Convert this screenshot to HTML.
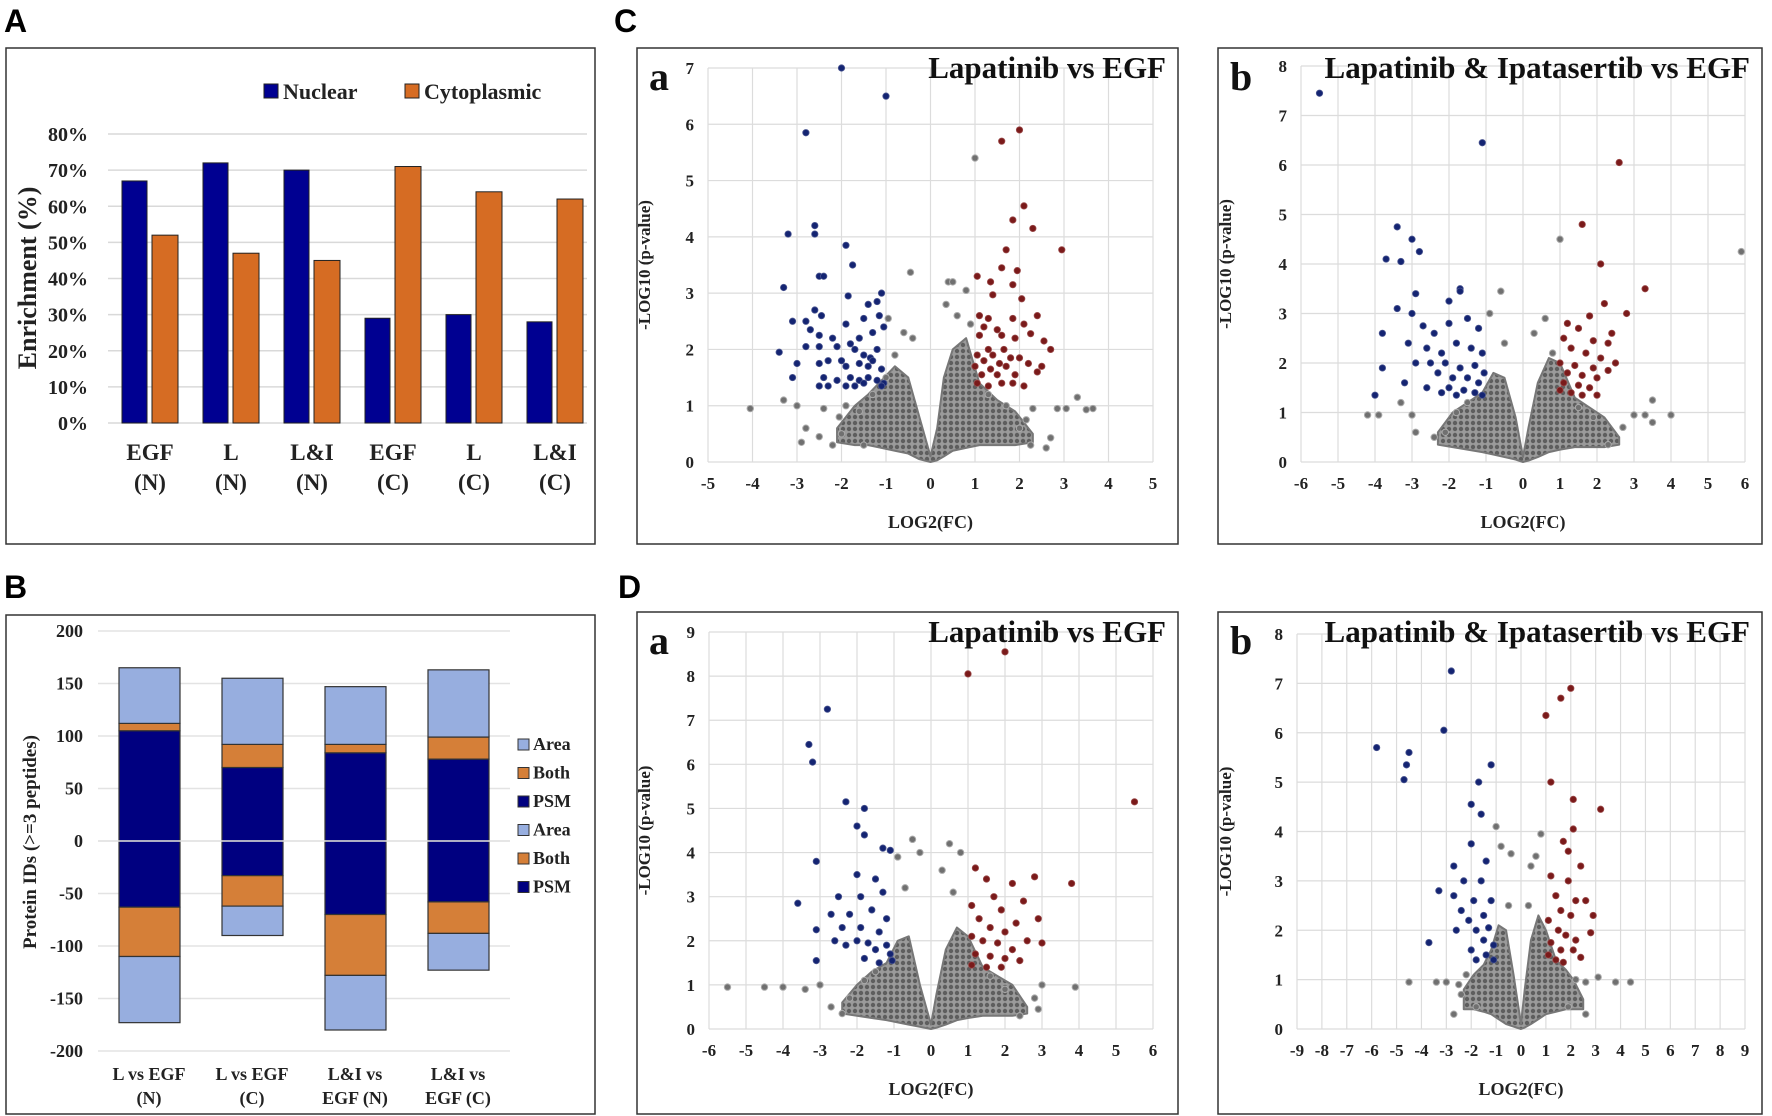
<!DOCTYPE html>
<html><head><meta charset="utf-8">
<style>
html,body{margin:0;padding:0;background:#fff;}
svg{display:block;font-family:"Liberation Serif",serif;}
.pl{font-family:"Liberation Sans",sans-serif;font-weight:bold;font-size:32px;}
</style></head>
<body>
<svg id="fig" width="1772" height="1116" viewBox="0 0 1772 1116" xmlns="http://www.w3.org/2000/svg">
<defs>
<pattern id="dots" width="6" height="6" patternUnits="userSpaceOnUse">
<rect width="6" height="6" fill="#9a9a9a"/>
<circle cx="3" cy="3" r="2.2" fill="#5e5e5e"/>
</pattern>
</defs>
<text class="pl" x="4" y="32">A</text>
<text class="pl" x="4" y="598">B</text>
<text class="pl" x="614" y="32">C</text>
<text class="pl" x="618" y="598">D</text>
<rect x="6" y="48" width="589" height="496" fill="none" stroke="#333" stroke-width="1.5"/>
<rect x="6" y="615" width="589" height="499" fill="none" stroke="#333" stroke-width="1.5"/>
<g id="gA"></g>
<g id="gB"></g>
<g id="gCa"></g>
<g id="gCb"></g>
<g id="gDa"></g>
<g id="gDb"></g>
</svg>
<script>
// ---------- Panel A data ----------
const aCategories = [["EGF","(N)"],["L","(N)"],["L&I","(N)"],["EGF","(C)"],["L","(C)"],["L&I","(C)"]];
const aNuclear = [67,72,70,29,30,28];
const aCytoplasmic = [52,47,45,71,64,62];
const aTicks = [0,10,20,30,40,50,60,70,80];

// ---------- Panel B data ----------
const bCategories = [["L vs EGF","(N)"],["L vs EGF","(C)"],["L&I vs","EGF (N)"],["L&I vs","EGF (C)"]];
const bPosPSM = [105,70,84,78];
const bPosBoth = [7,22,8,21];
const bPosArea = [53,63,55,64];
const bNegPSM = [-63,-33,-70,-58];
const bNegBoth = [-47,-29,-58,-30];
const bNegArea = [-63,-28,-52,-35];
const bTicks = [200,150,100,50,0,-50,-100,-150,-200];
const bLegend = ["Area","Both","PSM","Area","Both","PSM"];

// ---------- Volcano data: C-a ----------
const caBlue = [[-2,7],[-1,6.5],[-2.8,5.85],[-2.6,4.2],[-2.6,4.05],[-3.2,4.05],[-1.9,3.85],[-1.75,3.5],[-2.5,3.3],[-2.4,3.3],[-3.3,3.1],[-1.1,3.0],[-1.85,2.95],[-1.4,2.8],[-1.2,2.85],[-2.6,2.7],[-3.1,2.5],[-2.8,2.5],[-2.45,2.6],[-1.9,2.45],[-1.5,2.55],[-1.15,2.6],[-2.7,2.35],[-2.5,2.25],[-2.2,2.2],[-1.8,2.1],[-1.6,2.2],[-1.3,2.3],[-1.05,2.4],[-3.4,1.95],[-2.8,2.05],[-2.5,2.05],[-2.1,2.05],[-1.7,2.0],[-1.5,1.9],[-1.35,1.85],[-1.2,2.0],[-3.0,1.75],[-2.5,1.75],[-2.3,1.8],[-2.0,1.8],[-1.9,1.7],[-1.6,1.75],[-1.4,1.7],[-1.3,1.8],[-1.1,1.65],[-3.1,1.5],[-2.4,1.5],[-2.1,1.45],[-1.8,1.5],[-1.6,1.45],[-1.4,1.5],[-1.2,1.45],[-1.05,1.4],[-2.5,1.35],[-2.3,1.35],[-1.9,1.35],[-1.7,1.35],[-1.5,1.4],[-1.1,1.35]];
const caRed = [[2,5.9],[1.6,5.7],[2.1,4.55],[1.85,4.3],[2.3,4.15],[2.95,3.77],[1.7,3.77],[1.6,3.45],[1.95,3.4],[1.05,3.3],[1.35,3.2],[1.85,3.15],[1.4,2.97],[2.05,2.9],[2.4,2.6],[1.1,2.6],[1.3,2.55],[1.85,2.55],[2.1,2.45],[1.2,2.4],[1.5,2.35],[2.25,2.28],[1.1,2.25],[1.6,2.25],[1.9,2.2],[2.55,2.15],[2.7,2.0],[1.3,2.0],[1.65,2.0],[1.05,1.9],[1.4,1.9],[1.8,1.85],[2.0,1.85],[1.2,1.8],[1.55,1.75],[2.2,1.75],[1.0,1.7],[1.35,1.65],[1.7,1.7],[2.5,1.7],[1.15,1.55],[1.5,1.55],[1.9,1.55],[2.4,1.6],[1.05,1.4],[1.3,1.35],[1.6,1.4],[1.85,1.4],[2.1,1.35]];
const caGrey = [[1,5.4],[-0.45,3.37],[0.4,3.2],[0.5,3.2],[0.8,3.05],[0.35,2.8],[-0.95,2.55],[-4.05,0.95],[-3.3,1.1],[-3,1.0],[3.3,1.15],[3.05,0.95],[3.5,0.93],[3.65,0.95],[2.85,0.95],[2.6,0.25],[2.7,0.43],[2.25,0.3],[-2.9,0.35],[-2.8,0.6],[-2.5,0.45],[-2.2,0.3],[-2.4,0.95],[-1.9,1.0],[-2.05,0.8],[2.3,0.95],[2.15,0.75],[-1.5,0.3],[-0.6,2.3],[-0.4,2.2],[0.6,2.6],[0.9,2.45],[-0.8,1.9],[-1.0,1.5],[-1.6,0.9],[-1.3,1.2],[1.3,1.2],[1.7,1.0],[2.0,0.6],[-2.0,0.5]];
const caCloudX = [-2.1,-1.7,-1.4,-1.1,-0.8,-0.5,-0.25,0,0.15,0.3,0.5,0.8,1.1,1.5,1.9,2.3];
const caCloudTop = [0.6,1.0,1.2,1.45,1.7,1.5,0.8,0.1,0.6,1.5,2.0,2.2,1.4,1.1,0.9,0.5];
const caCloudBottom = [0.35,0.3,0.3,0.25,0.2,0.15,0.05,0,0.03,0.1,0.2,0.25,0.3,0.3,0.3,0.35];

// ---------- C-b ----------
const cbBlue = [[-5.5,7.45],[-1.1,6.45],[-3.4,4.75],[-3.0,4.5],[-2.8,4.25],[-3.7,4.1],[-3.3,4.05],[-1.7,3.5],[-1.7,3.45],[-3.4,3.1],[-2.9,3.4],[-2.0,3.25],[-3.0,3.0],[-1.5,2.9],[-3.8,2.6],[-2.7,2.75],[-2.4,2.6],[-2.0,2.8],[-1.2,2.7],[-3.1,2.4],[-2.6,2.3],[-2.2,2.2],[-1.8,2.4],[-1.4,2.3],[-1.1,2.2],[-2.9,2.0],[-2.5,2.0],[-2.1,2.0],[-1.7,1.9],[-1.3,1.95],[-1.05,1.8],[-3.8,1.9],[-2.3,1.8],[-1.9,1.7],[-1.5,1.7],[-1.2,1.6],[-4,1.35],[-3.2,1.6],[-2.6,1.5],[-2.0,1.5],[-1.6,1.45],[-1.3,1.4],[-1.1,1.35],[-1.8,1.35],[-2.2,1.4]];
const cbRed = [[2.6,6.05],[1.6,4.8],[2.1,4.0],[3.3,3.5],[2.2,3.2],[2.8,3.0],[1.8,2.95],[1.2,2.8],[1.5,2.7],[2.4,2.6],[1.1,2.5],[1.9,2.45],[2.3,2.4],[1.3,2.3],[1.7,2.2],[2.1,2.1],[2.5,2.0],[1.0,2.0],[1.4,1.95],[1.9,1.9],[2.3,1.85],[1.2,1.8],[1.6,1.75],[2.0,1.7],[1.1,1.6],[1.5,1.55],[1.8,1.5],[1.0,1.45],[1.3,1.4],[1.6,1.35],[2.0,1.35]];
const cbGrey = [[5.9,4.25],[1.0,4.5],[-0.6,3.45],[-4.2,0.95],[-3.9,0.95],[-3.0,0.95],[-2.9,0.6],[-3.3,1.2],[3.5,1.25],[3.0,0.95],[3.3,0.95],[3.5,0.8],[4.0,0.95],[2.7,0.7],[-2.4,0.5],[2.3,0.35],[-0.9,3.0],[0.6,2.9],[0.3,2.6],[-0.5,2.4],[0.8,2.2],[-1.8,1.0],[-1.5,1.2],[1.5,1.1],[1.9,0.9],[-2.1,0.6]];
const cbCloudX = [-2.3,-1.9,-1.5,-1.1,-0.8,-0.5,-0.2,0,0.15,0.4,0.7,1.0,1.4,1.8,2.2,2.6];
const cbCloudTop = [0.6,1.0,1.2,1.4,1.8,1.7,0.9,0.1,0.7,1.6,2.1,2.0,1.3,1.1,0.9,0.5];
const cbCloudBottom = [0.35,0.3,0.25,0.2,0.15,0.1,0.05,0,0.03,0.1,0.2,0.25,0.3,0.3,0.3,0.35];

// ---------- D-a ----------
const daBlue = [[-2.8,7.25],[-3.3,6.45],[-3.2,6.05],[-2.3,5.15],[-1.8,5.0],[-2.0,4.6],[-1.8,4.4],[-1.3,4.1],[-1.1,4.05],[-3.1,3.8],[-2.0,3.5],[-1.5,3.4],[-2.5,3.0],[-3.6,2.85],[-1.9,3.0],[-1.3,3.1],[-2.7,2.6],[-2.2,2.6],[-1.6,2.7],[-1.2,2.5],[-3.1,2.25],[-2.4,2.3],[-1.9,2.3],[-1.4,2.2],[-2.0,2.0],[-1.7,1.95],[-1.2,1.9],[-3.1,1.55],[-2.3,1.9],[-1.5,1.8],[-1.1,1.7],[-2.6,2.0],[-1.8,1.6],[-1.4,1.5],[-1.05,1.55]];
const daRed = [[1.0,8.05],[2.0,8.55],[5.5,5.15],[3.8,3.3],[1.2,3.65],[1.5,3.4],[2.8,3.45],[2.2,3.3],[1.7,3.0],[2.5,2.9],[1.1,2.8],[1.9,2.7],[2.9,2.5],[1.3,2.5],[2.3,2.4],[1.6,2.3],[2.0,2.2],[2.6,2.0],[1.1,2.1],[1.4,2.0],[1.8,1.95],[3.0,1.95],[2.2,1.8],[1.2,1.7],[1.6,1.65],[2.0,1.6],[2.4,1.55],[1.1,1.45],[1.5,1.4],[1.9,1.4]];
const daGrey = [[-5.5,0.95],[-4.5,0.95],[-4,0.95],[-3.4,0.9],[3.9,0.95],[2.8,0.7],[2.9,0.45],[-0.5,4.3],[-0.3,4.0],[0.5,4.2],[0.8,4.0],[-0.9,3.9],[0.3,3.6],[-2.7,0.5],[-2.4,0.35],[2.4,0.3],[3.0,1.0],[-3.0,1.0],[-0.7,3.2],[0.6,3.1],[-1.8,1.1],[-1.5,1.3],[1.6,1.2],[2.0,0.9],[-2.2,0.7]];
const daCloudX = [-2.4,-2.0,-1.6,-1.2,-0.9,-0.6,-0.3,0,0.15,0.4,0.7,1.0,1.4,1.8,2.2,2.6];
const daCloudTop = [0.6,1.0,1.3,1.5,2.0,2.1,1.0,0.1,0.8,1.8,2.3,2.1,1.4,1.2,1.0,0.5];
const daCloudBottom = [0.35,0.3,0.25,0.2,0.15,0.1,0.05,0,0.03,0.1,0.2,0.25,0.3,0.3,0.3,0.35];

// ---------- D-b ----------
const dbBlue = [[-2.8,7.25],[-5.8,5.7],[-4.5,5.6],[-4.6,5.35],[-1.2,5.35],[-4.7,5.05],[-1.7,5.0],[-3.1,6.05],[-2.0,4.55],[-1.6,4.35],[-2.0,3.75],[-2.7,3.3],[-1.4,3.4],[-3.3,2.8],[-2.3,3.0],[-1.6,3.0],[-2.7,2.7],[-1.9,2.6],[-1.2,2.6],[-2.4,2.4],[-1.5,2.3],[-3.7,1.75],[-2.1,2.2],[-1.8,2.0],[-1.3,2.05],[-2.6,2.0],[-1.5,1.8],[-1.1,1.7],[-2.0,1.6],[-1.4,1.5],[-1.8,1.4],[-1.1,1.4]];
const dbRed = [[2.0,6.9],[1.6,6.7],[1.0,6.35],[1.2,5.0],[2.1,4.65],[3.2,4.45],[2.1,4.05],[1.7,3.8],[1.9,3.6],[2.4,3.3],[1.2,3.1],[1.9,3.0],[2.6,2.6],[1.4,2.7],[2.2,2.6],[2.9,2.3],[1.6,2.4],[2.0,2.3],[2.8,1.95],[1.1,2.2],[1.5,2.0],[1.8,1.9],[2.4,1.45],[1.2,1.75],[1.6,1.6],[2.2,1.8],[1.1,1.5],[1.4,1.4],[1.7,1.35],[2.1,1.6]];
const dbGrey = [[-1.0,4.1],[0.8,3.95],[-0.8,3.7],[-0.4,3.55],[0.6,3.5],[0.4,3.3],[-4.5,0.95],[-3.0,0.95],[-3.4,0.95],[3.1,1.05],[3.8,0.95],[4.4,0.95],[-2.5,0.9],[2.6,0.95],[-2.7,0.3],[2.6,0.3],[-1.8,0.45],[1.9,0.45],[-0.5,2.5],[0.3,2.5],[-2.2,1.1],[2.2,1.0],[-2.4,0.7]];
const dbCloudX = [-2.3,-1.9,-1.5,-1.2,-0.9,-0.6,-0.3,0,0.15,0.4,0.7,1.0,1.4,1.8,2.1,2.5];
const dbCloudTop = [0.8,1.1,1.3,1.6,2.1,2.0,1.1,0.1,0.8,1.8,2.3,2.0,1.4,1.2,1.0,0.6];
const dbCloudBottom = [0.4,0.4,0.35,0.3,0.2,0.1,0.05,0,0.03,0.1,0.2,0.3,0.35,0.4,0.4,0.4];

const NS = "http://www.w3.org/2000/svg";
function mk(parent, tag, attrs, text){
  const e = document.createElementNS(NS, tag);
  for (const k in attrs) e.setAttribute(k, attrs[k]);
  if (text !== undefined) e.textContent = text;
  parent.appendChild(e);
  return e;
}

// ---------- Draw Panel A ----------
(function(){
  const g = document.getElementById('gA');
  const y = v => 423 - v/80*289;
  const cx = i => 150 + i*81;
  aTicks.forEach(t=>{
    const l = mk(g,'line',{x1:108,x2:587,y1:y(t),y2:y(t),stroke:'#d9d9d9','stroke-width':1.5});
    
    
    const tx = mk(g,'text',{x:88,y:y(t)+7,'text-anchor':'end','font-size':20,'font-weight':'bold',fill:'#222'},t+'%');
    
    
  });
  aCategories.forEach((c,i)=>{
    const b1 = mk(g,'rect',{x:cx(i)-28,y:y(aNuclear[i]),width:25,height:y(0)-y(aNuclear[i]),fill:'#000091',stroke:'#222','stroke-width':1});
    
    
    const b2 = mk(g,'rect',{x:cx(i)+2,y:y(aCytoplasmic[i]),width:26,height:y(0)-y(aCytoplasmic[i]),fill:'#d66c23',stroke:'#222','stroke-width':1});
    
    
    const t1 = mk(g,'text',{x:cx(i),y:460,'text-anchor':'middle','font-size':23,'font-weight':'bold',fill:'#222'},c[0]);
    
    
    const t2 = mk(g,'text',{x:cx(i),y:490,'text-anchor':'middle','font-size':23,'font-weight':'bold',fill:'#222'},c[1]);
    
    
  });
  const yt = mk(g,'text',{x:0,y:0,transform:'translate(36,278) rotate(-90)','text-anchor':'middle','font-size':26,'font-weight':'bold',fill:'#222'},'Enrichment (%)');
  
  
  const l1 = mk(g,'rect',{x:264,y:84,width:14,height:14,fill:'#000091',stroke:'#222'});
  
  
  const l1t = mk(g,'text',{x:283,y:99,'font-size':22,'font-weight':'bold',fill:'#222'},'Nuclear');
  
  
  const l2 = mk(g,'rect',{x:405,y:84,width:14,height:14,fill:'#d66c23',stroke:'#222'});
  
  
  const l2t = mk(g,'text',{x:424,y:99,'font-size':22,'font-weight':'bold',fill:'#222'},'Cytoplasmic');
  
  
})();

// ---------- Draw Panel B ----------
(function(){
  const g = document.getElementById('gB');
  const y = v => 841 - v/200*210;
  const cx = i => 149 + i*103;
  const cArea='#97aedf', cBoth='#d57f38', cPSM='#000080';
  bTicks.forEach(t=>{
    const l = mk(g,'line',{x1:98,x2:510,y1:y(t),y2:y(t),stroke:'#e3e3e3','stroke-width':1.5});
    
    
    const tx = mk(g,'text',{x:83,y:y(t)+6,'text-anchor':'end','font-size':18,'font-weight':'bold',fill:'#222'},t);
    
    
  });
  function seg(i,a,b,col,name){
    const r = mk(g,'rect',{x:cx(i)-30,y:y(Math.max(a,b)),width:61,height:Math.abs(y(a)-y(b)),fill:col,stroke:'#333','stroke-width':1.2});
    
    
  }
  bCategories.forEach((c,i)=>{
    const p1=bPosPSM[i], p2=p1+bPosBoth[i], p3=p2+bPosArea[i];
    const n1=bNegPSM[i], n2=n1+bNegBoth[i], n3=n2+bNegArea[i];
    seg(i,0,p1,cPSM,'bar-psm-up');
    seg(i,p1,p2,cBoth,'bar-both-up');
    seg(i,p2,p3,cArea,'bar-area-up');
    seg(i,0,n1,cPSM,'bar-psm-down');
    seg(i,n1,n2,cBoth,'bar-both-down');
    seg(i,n2,n3,cArea,'bar-area-down');
    const t1 = mk(g,'text',{x:cx(i),y:1080,'text-anchor':'middle','font-size':18,'font-weight':'bold',fill:'#222'},c[0]);
    
    
    const t2 = mk(g,'text',{x:cx(i),y:1104,'text-anchor':'middle','font-size':18,'font-weight':'bold',fill:'#222'},c[1]);
    
    
  });
  const zl = mk(g,'line',{x1:98,x2:510,y1:y(0),y2:y(0),stroke:'#e3e3e3','stroke-width':1.5});
  
  
  const cols=[cArea,cBoth,cPSM,cArea,cBoth,cPSM];
  bLegend.forEach((n,k)=>{
    const yy = 750 + k*28.5;
    const s = mk(g,'rect',{x:518,y:yy-11,width:11,height:11,fill:cols[k],stroke:'#333'});
    
    
    const t = mk(g,'text',{x:533,y:yy,'font-size':18,'font-weight':'bold',fill:'#222'},n);
    
    
  });
  const yt = mk(g,'text',{x:0,y:0,transform:'translate(36,842) rotate(-90)','text-anchor':'middle','font-size':19,'font-weight':'bold',fill:'#222'},'Protein IDs (>=3 peptides)');
  
  
})();

// ---------- Volcano plots ----------
function volcano(id, cfg, blue, red, grey, cx_, ctop, cbot){
  const g = document.getElementById(id);
  const x = v => cfg.px0 + (v-cfg.xmin)/(cfg.xmax-cfg.xmin)*(cfg.px1-cfg.px0);
  const y = v => cfg.py0 - v/cfg.ymax*(cfg.py0-cfg.py1);
  const fr = mk(g,'rect',{x:cfg.bx,y:cfg.by,width:cfg.bw,height:cfg.bh,fill:'none',stroke:'#333','stroke-width':1.5});
  
  
  for(let v=cfg.xmin; v<=cfg.xmax; v++){
    const l = mk(g,'line',{x1:x(v),x2:x(v),y1:y(0),y2:y(cfg.ymax),stroke:'#dcdcdc','stroke-width':1.2});
    
    
    const t = mk(g,'text',{x:x(v),y:y(0)+27,'text-anchor':'middle','font-size':cfg.fs,'font-weight':'bold',fill:'#222'},v);
    
    
  }
  for(let v=0; v<=cfg.ymax; v++){
    const l = mk(g,'line',{x1:x(cfg.xmin),x2:x(cfg.xmax),y1:y(v),y2:y(v),stroke:'#dcdcdc','stroke-width':1.2});
    
    
    const t = mk(g,'text',{x:x(cfg.xmin)-14,y:y(v)+6,'text-anchor':'end','font-size':cfg.fs,'font-weight':'bold',fill:'#222'},v);
    
    
  }
  let pts = cx_.map((v,i)=>x(v)+','+y(ctop[i]));
  for(let i=cx_.length-1;i>=0;i--) pts.push(x(cx_[i])+','+y(cbot[i]));
  const cl = mk(g,'polygon',{points:pts.join(' '),fill:'url(#dots)',stroke:'#777','stroke-width':2,'stroke-linejoin':'round'});
  
  
  grey.forEach(p=>{
    const c = mk(g,'circle',{cx:x(p[0]),cy:y(p[1]),r:3.2,fill:'#707070',stroke:'#aaa','stroke-width':1});
    
    
  });
  blue.forEach(p=>{
    const c = mk(g,'circle',{cx:x(p[0]),cy:y(p[1]),r:3.2,fill:'#142472',stroke:'#4a5590','stroke-width':0.8});
    
    
  });
  red.forEach(p=>{
    const c = mk(g,'circle',{cx:x(p[0]),cy:y(p[1]),r:3.2,fill:'#7a1a1a',stroke:'#9a4a4a','stroke-width':0.8});
    
    
  });
  const tt = mk(g,'text',{x:cfg.bx+cfg.bw-12,y:cfg.by+30,'text-anchor':'end','font-size':31,'font-weight':'bold',fill:'#111'},cfg.title);
  
  
  const lt = mk(g,'text',{x:cfg.bx+12,y:cfg.by+42,'font-size':40,'font-weight':'bold',fill:'#111'},cfg.letter);
  
  
  const xt = mk(g,'text',{x:(x(cfg.xmin)+x(cfg.xmax))/2,y:y(0)+66,'text-anchor':'middle','font-size':18,'font-weight':'bold',fill:'#222'},'LOG2(FC)');
  
  
  const yt = mk(g,'text',{x:0,y:0,transform:'translate('+(cfg.bx+13)+','+((y(0)+y(cfg.ymax))/2)+') rotate(-90)','text-anchor':'middle','font-size':17,'font-weight':'bold',fill:'#222'},'-LOG10 (p-value)');
  
  
}
volcano('gCa',{bx:637,by:48,bw:541,bh:496,px0:708,px1:1153,xmin:-5,xmax:5,py0:462,py1:68,ymax:7,fs:17,title:'Lapatinib vs EGF',letter:'a'},caBlue,caRed,caGrey,caCloudX,caCloudTop,caCloudBottom);
volcano('gCb',{bx:1218,by:48,bw:544,bh:496,px0:1301,px1:1745,xmin:-6,xmax:6,py0:462,py1:66,ymax:8,fs:17,title:'Lapatinib & Ipatasertib vs EGF',letter:'b'},cbBlue,cbRed,cbGrey,cbCloudX,cbCloudTop,cbCloudBottom);
volcano('gDa',{bx:637,by:612,bw:541,bh:502,px0:709,px1:1153,xmin:-6,xmax:6,py0:1029,py1:632,ymax:9,fs:17,title:'Lapatinib vs EGF',letter:'a'},daBlue,daRed,daGrey,daCloudX,daCloudTop,daCloudBottom);
volcano('gDb',{bx:1218,by:612,bw:544,bh:502,px0:1297,px1:1745,xmin:-9,xmax:9,py0:1029,py1:634,ymax:8,fs:17,title:'Lapatinib & Ipatasertib vs EGF',letter:'b'},dbBlue,dbRed,dbGrey,dbCloudX,dbCloudTop,dbCloudBottom);
</script>
</body></html>
